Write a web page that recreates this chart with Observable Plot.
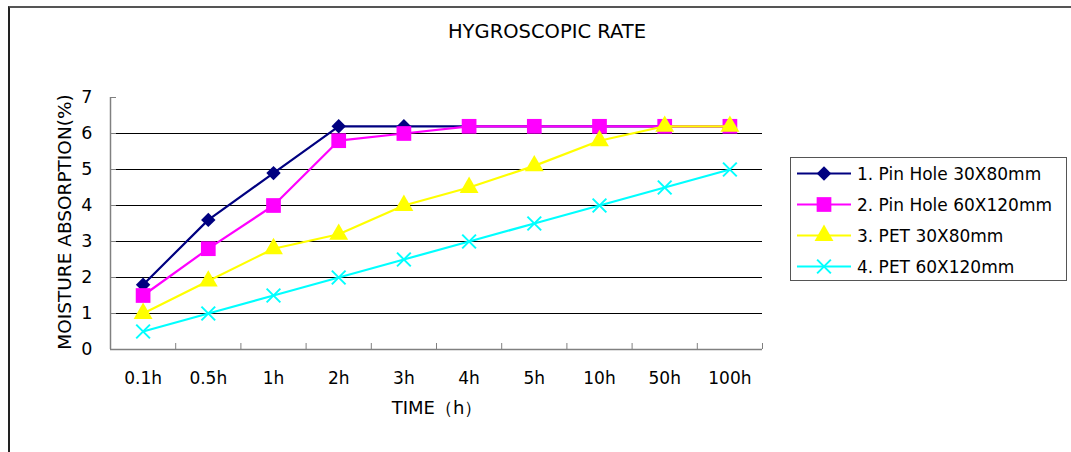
<!DOCTYPE html>
<html><head><meta charset="utf-8">
<script src="https://cdn.jsdelivr.net/npm/d3@7"></script>
<script src="https://cdn.jsdelivr.net/npm/@observablehq/plot@0.6"></script>
<style>
body{margin:0;background:#fff;font-family:"DejaVu Sans",sans-serif;color:#000;width:1071px;height:452px;overflow:hidden;position:relative}
#frame{position:absolute;left:8px;top:6px;width:1100px;height:500px;border-top:2px solid #555;border-left:2px solid #222;}
#title{position:absolute;left:0;top:22px;width:1094px;text-align:center;font-size:19.5px;line-height:20px;}
#chart{position:absolute;left:0;top:0;}
#ylabel{position:absolute;left:-85px;top:212px;width:300px;height:20px;line-height:20px;text-align:center;font-size:18.5px;transform:rotate(-90deg);white-space:nowrap;}
#xlabel{position:absolute;left:287px;top:398px;width:300px;line-height:20px;text-align:center;font-size:18px;white-space:nowrap;}
#legend{position:absolute;left:790px;top:157px;width:275px;height:122px;border:1px solid #555;background:#fff;}
#legend .row{display:flex;align-items:center;height:31px;font-size:17px;white-space:nowrap;}
#legend .row svg{display:block;margin-right:6px;}
</style></head><body>
<div id="frame"></div>
<div id="title">HYGROSCOPIC RATE</div>
<div id="chart"></div>
<div id="ylabel">MOISTURE ABSORPTION(%)</div>
<div id="xlabel">TIME（h）</div>
<div id="legend"></div>
<script>
const times = ["0.1h","0.5h","1h","2h","3h","4h","5h","10h","50h","100h"];
const yTicks = [0,1,2,3,4,5,6,7];
const gridValues = [1,2,3,4,5,6];
const seriesNames = ["1. Pin Hole 30X80mm","2. Pin Hole 60X120mm","3. PET 30X80mm","4. PET 60X120mm"];
const pinHole30x80 = [1.8,3.6,4.9,6.2,6.2,6.2,6.2,6.2,6.2,6.2];
const pinHole60x120 = [1.5,2.8,4.0,5.8,6.0,6.2,6.2,6.2,6.2,6.2];
const pet30x80 = [1.0,1.9,2.8,3.2,4.0,4.5,5.1,5.8,6.2,6.2];
const pet60x120 = [0.5,1.0,1.5,2.0,2.5,3.0,3.5,4.0,4.5,5.0];
const seriesValues = [pinHole30x80, pinHole60x120, pet30x80, pet60x120];

const styles = [
  {color:"#000080", symbol:"diamond2", r:6.5, filled:true},
  {color:"#FF00FF", symbol:"square", r:8.3, filled:true},
  {color:"#FFFF00", symbol:"triangle", r:7, filled:true},
  {color:"#00FFFF", symbol:"times", r:6.3, filled:false}
];

const idx = times.map((_, i) => i);
const bounds = idx.map(i => i - 0.5).concat([times.length - 0.5]);

const marks = [
  Plot.ruleY(gridValues, {stroke:"#000", strokeWidth:1}),
  Plot.ruleX([bounds[0]], {stroke:"#808080", strokeWidth:1.5}),
  Plot.ruleY([yTicks[0]], {stroke:"#808080", strokeWidth:1.5}),
  Plot.axisY({ticks: yTicks, tickSize: -6, tickFormat: () => "", label: null, stroke: "#808080"}),
  Plot.axisY({ticks: yTicks, tickSize: 0, tickPadding: 18, tickFormat: d => String(d), label: null, fontSize: 17.5, fill: "#000"}),
  Plot.axisX({ticks: bounds, tickSize: -6, tickFormat: () => "", label: null, stroke: "#808080"}),
  Plot.axisX({ticks: idx, tickSize: 0, tickPadding: 22, tickFormat: i => times[i], label: null, fontSize: 17, fill: "#000"})
];
seriesValues.forEach((vals, k) => {
  const data = vals.map((v, i) => ({i, v}));
  const s = styles[k];
  marks.push(Plot.line(data, {x: "i", y: "v", stroke: s.color, strokeWidth: 2.2}));
  marks.push(Plot.dot(data, {x: "i", y: "v", symbol: s.symbol, r: s.r,
    fill: s.filled ? s.color : "none", stroke: s.filled ? "none" : s.color, strokeWidth: 2}));
});

const chart = Plot.plot({
  width: 780, height: 430,
  marginLeft: 110, marginRight: 18, marginTop: 97, marginBottom: 81,
  x: {type: "linear", domain: [bounds[0], bounds[bounds.length - 1]], label: null},
  y: {domain: [yTicks[0], yTicks[yTicks.length - 1]], label: null},
  style: {fontFamily: "DejaVu Sans", fontSize: "17px", background: "transparent", color: "#000", overflow: "visible"},
  marks
});
document.getElementById("chart").append(chart);

const symbolMap = {diamond2: d3.symbolDiamond2, square: d3.symbolSquare, triangle: d3.symbolTriangle, times: d3.symbolTimes};
const legend = document.getElementById("legend");
seriesNames.forEach((name, k) => {
  const s = styles[k];
  const row = document.createElement("div");
  row.className = "row";
  const svg = d3.create("svg").attr("width", 60).attr("height", 31);
  svg.append("line").attr("x1", 6).attr("x2", 60).attr("y1", 15.5).attr("y2", 15.5)
    .attr("stroke", s.color).attr("stroke-width", 2.2);
  svg.append("path").attr("transform", "translate(33,15.5)")
    .attr("d", d3.symbol(symbolMap[s.symbol], Math.PI * s.r * s.r)())
    .attr("fill", s.filled ? s.color : "none")
    .attr("stroke", s.filled ? "none" : s.color).attr("stroke-width", 2);
  row.append(svg.node());
  const span = document.createElement("span");
  span.textContent = name;
  row.append(span);
  legend.append(row);
});
</script>
</body></html>
